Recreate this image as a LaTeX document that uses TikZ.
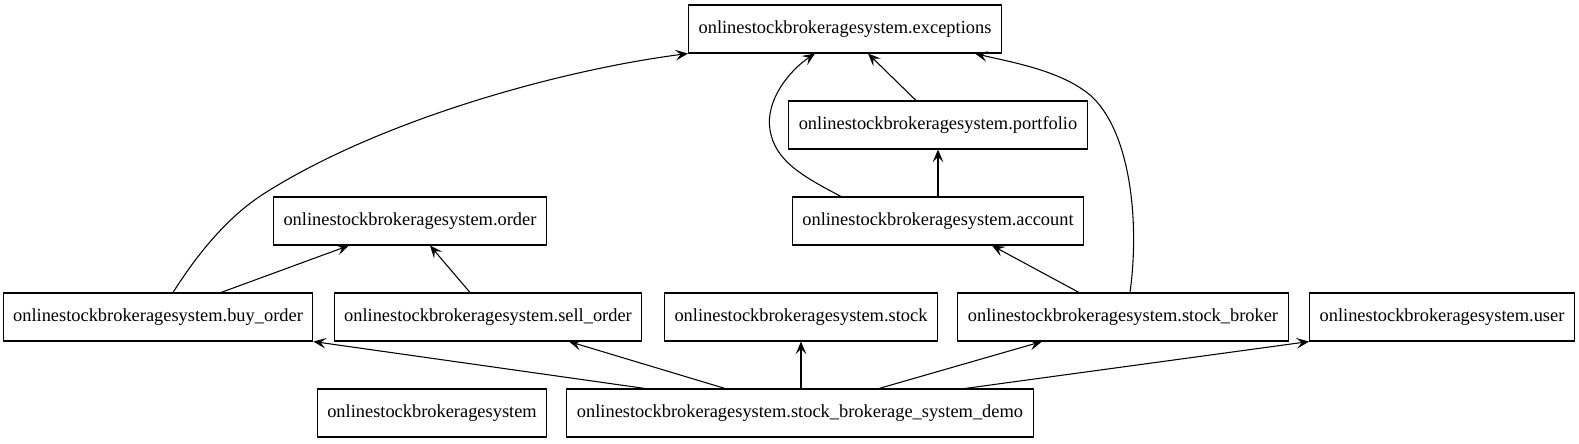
\documentclass[tikz,border=0pt]{standalone}
\usepackage{fontspec}
\setmainfont{Liberation Serif}
\usetikzlibrary{arrows.meta}
\begin{document}
\begin{tikzpicture}[x=0.75pt,y=-0.75pt,
  pkg/.style={draw,line width=0.8pt,minimum height=36pt,inner xsep=7.5pt,font=\fontsize{13.8}{16}\selectfont},
  dep/.style={line width=0.8pt,-{Stealth[length=9.5pt,width=8pt,inset=4pt]}}]
\useasboundingbox (0,0) rectangle (1579,443);
\node[pkg] (exc) at (845,29) {onlinestockbrokeragesystem.exceptions};
\node[pkg] (port) at (938,125) {onlinestockbrokeragesystem.portfolio};
\node[pkg] (ord) at (410,221) {onlinestockbrokeragesystem.order};
\node[pkg] (acc) at (938,221) {onlinestockbrokeragesystem.account};
\node[pkg] (buy) at (158,317) {onlinestockbrokeragesystem.buy\_order};
\node[pkg] (sell) at (488,317) {onlinestockbrokeragesystem.sell\_order};
\node[pkg] (stock) at (801,317) {onlinestockbrokeragesystem.stock};
\node[pkg] (broker) at (1123,317) {onlinestockbrokeragesystem.stock\_broker};
\node[pkg] (user) at (1442,317) {onlinestockbrokeragesystem.user};
\node[pkg] (root) at (432,413) {onlinestockbrokeragesystem};
\node[pkg] (demo) at (800,413) {onlinestockbrokeragesystem.stock\_brokerage\_system\_demo};

\draw[dep] (buy.north -| 173,0) .. controls (200,250) and (230,215) .. (265,193)
   .. controls (380,120) and (560,70) .. (exc.south west);
\draw[dep] (buy.north -| 221,0) -- (ord.south -| 349,0);
\draw[dep] (sell.north -| 470,0) -- (ord.south -| 430,0);
\draw[dep] (acc.north) -- (port.south);
\draw[dep] (port.north -| 916,0) -- (exc.south -| 868,0);
\draw[dep] (acc.north -| 841,0) .. controls (800,175) and (775,160) .. (770,130)
   .. controls (765,100) and (790,70) .. (exc.south -| 815,0);
\draw[dep] (broker.north -| 1079,0) -- (acc.south -| 992,0);
\draw[dep] (broker.north -| 1130,0) .. controls (1140,220) and (1130,130) .. (1090,95)
   .. controls (1060,70) and (1010,62) .. (exc.south -| 975,0);
\draw[dep] (demo.north -| 645,0) -- (buy.south east);
\draw[dep] (demo.north -| 725,0) -- (sell.south -| 569,0);
\draw[dep] (demo.north -| 801,0) -- (stock.south -| 801,0);
\draw[dep] (demo.north -| 879,0) -- (broker.south -| 1042,0);
\draw[dep] (demo.north -| 965,0) -- (user.south west);
\end{tikzpicture}
\end{document}
